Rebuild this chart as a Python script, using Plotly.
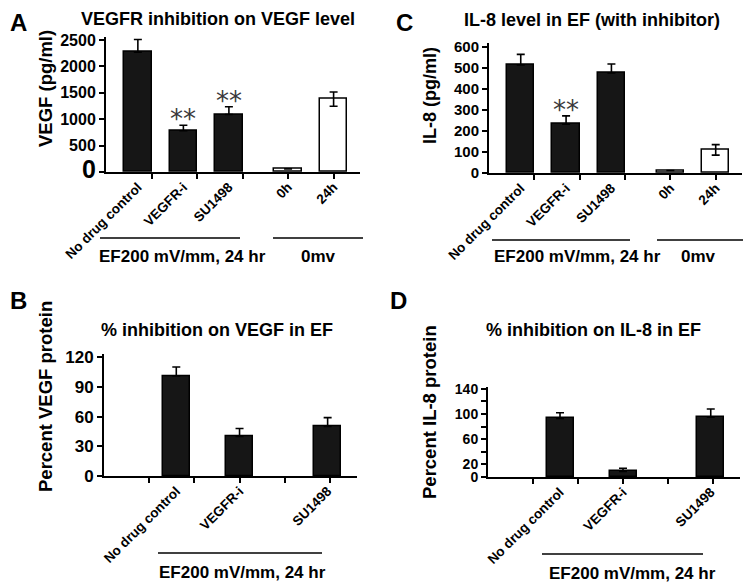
import plotly.graph_objects as go

# the page body keeps its default 8px margin, so the figure is drawn 8px smaller
# and every reference pixel position is shifted by that margin
PAGE_W, PAGE_H, BODY = 751, 587, 8
W, H = PAGE_W - BODY, PAGE_H - BODY
FONT = "Liberation Sans, Arial, sans-serif"

# ---- data ----
# panel A: VEGF level (pg/ml)
vegf_cats = ["No drug control", "VEGFR-i", "SU1498", "0h", "24h"]
vegf_mean = [2270, 780, 1090, 60, 1380]
vegf_err = [240, 105, 145, 0, 135]
vegf_sig = ["", "**", "**", "", ""]

# panel C: IL-8 level (pg/ml)
il8_cats = ["No drug control", "VEGFR-i", "SU1498", "0h", "24h"]
il8_mean = [515, 232, 477, 12, 110]
il8_err = [50, 40, 42, 0, 25]
il8_sig = ["", "**", "", "", ""]

# panels B and D: percent of control
pct_cats = ["No drug control", "VEGFR-i", "SU1498"]
vegf_pct = [101, 40, 50]
vegf_pct_err = [9, 8, 9]
il8_pct = [93, 9, 95]
il8_pct_err = [9, 5, 13]

vegf_ticks = [0, 500, 1000, 1500, 2000, 2500]
il8_ticks = [0, 100, 200, 300, 400, 500, 600]
vegf_pct_ticks = [0, 30, 60, 90, 120]
il8_pct_ticks = [0, 20, 40, 60, 80, 100, 120, 140]
il8_pct_labels = ["0", "20", "", "60", "", "100", "", "140"]

# ---- layout helpers ----
slot_full = [0.7, 1.7, 2.7, 4.0, 5.0]
slot_pct = [1.6, 3.0, 4.95]
bar_fill = ["#161616", "#161616", "#161616", "white", "white"]


def px_x(v):
    return (v - BODY) / W


def px_y(v):
    return 1 - (v - BODY) / H


fig = go.Figure()


def add_bars(ax, xs, means, errs, colors):
    # filled bars hide the lower half of the error bar, open bars show it
    lower = [e if c == "white" else 0 for e, c in zip(errs, colors)]
    fig.add_trace(go.Bar(
        x=xs, y=means, width=0.6,
        marker=dict(color=colors, line=dict(color="black", width=1.5)),
        error_y=dict(type="data", symmetric=False, array=errs, arrayminus=lower,
                     color="black", thickness=1.6, width=4),
        xaxis="x" + ax, yaxis="y" + ax, showlegend=False,
    ))


add_bars("", slot_full, vegf_mean, vegf_err, bar_fill)
add_bars("2", slot_full, il8_mean, il8_err, bar_fill)
add_bars("3", slot_pct, vegf_pct, vegf_pct_err, bar_fill[:3])
add_bars("4", slot_pct, il8_pct, il8_pct_err, bar_fill[:3])


def xaxis_cfg(left, right, rng, vals, labels, anchor):
    return dict(
        domain=[px_x(left), px_x(right)], range=rng, anchor=anchor,
        automargin=False,
        tickmode="array", tickvals=vals, ticktext=labels, tickangle=-45,
        ticks="", showline=True, linecolor="black", linewidth=2,
        showgrid=False, zeroline=False,
        tickfont=dict(family=FONT, size=13.5, color="black", weight="bold"),
        minor=dict(tickmode="array", tickvals=[1, 2, 3, 4, 5], ticks="outside",
                   ticklen=5, tickwidth=1.5, tickcolor="black", showgrid=False),
    )


def yaxis_cfg(bottom, top, rng, vals, labels, anchor, size):
    return dict(
        domain=[px_y(bottom), px_y(top)], range=rng, anchor=anchor,
        automargin=False,
        tickmode="array", tickvals=vals, ticktext=labels,
        ticks="outside", ticklen=5, tickwidth=1.5, tickcolor="black",
        showline=True, linecolor="black", linewidth=2,
        showgrid=False, zeroline=False,
        tickfont=dict(family=FONT, size=size, color="black", weight="bold"),
    )


vegf_labels = ["<span style='font-size:25px'>0</span>"] + [str(v) for v in vegf_ticks[1:]]

fig.update_layout(
    template="none",
    width=W, height=H,
    margin=dict(l=0, r=0, t=0, b=0, autoexpand=False),
    paper_bgcolor="white", plot_bgcolor="white",
    bargap=0, showlegend=False,
    xaxis=xaxis_cfg(106, 360, [0, 5.58], slot_full, vegf_cats, "y"),
    yaxis=yaxis_cfg(172, 36.8, [0, 2560], vegf_ticks, vegf_labels, "x", 16),
    xaxis2=xaxis_cfg(489, 742, [0, 5.58], slot_full, il8_cats, "y2"),
    yaxis2=yaxis_cfg(173, 42.8, [0, 620], il8_ticks, [str(v) for v in il8_ticks], "x2", 15),
    xaxis3=xaxis_cfg(104, 357, [0, 5.6], slot_pct, pct_cats, "y3"),
    yaxis3=yaxis_cfg(476, 354.2, [0, 123], vegf_pct_ticks, [str(v) for v in vegf_pct_ticks], "x3", 17),
    xaxis4=xaxis_cfg(488, 740, [0, 5.6], slot_pct, pct_cats, "y4"),
    yaxis4=yaxis_cfg(477, 387, [0, 143], il8_pct_ticks, il8_pct_labels, "x4", 14),
)


def text(s, x, y, size, angle=0, weight="bold"):
    fig.add_annotation(
        text=s, x=px_x(x), y=px_y(y), xref="paper", yref="paper",
        showarrow=False, textangle=angle, xanchor="center", yanchor="middle",
        font=dict(family=FONT, size=size, color="black", weight=weight),
    )


def group_line(x0, x1, y):
    fig.add_shape(type="line", xref="paper", yref="paper",
                  x0=px_x(x0), x1=px_x(x1), y0=px_y(y), y1=px_y(y),
                  line=dict(color="black", width=1.5))


# panel letters
text("A", 18, 22, 24)
text("B", 18, 300, 24)
text("C", 404, 22, 24)
text("D", 398, 300, 24)

# titles
text("VEGFR inhibition on VEGF level", 218, 19, 18)
text("IL-8 level in EF (with inhibitor)", 592, 20, 18)
text("% inhibition on VEGF in EF", 217, 330, 18)
text("% inhibition on IL-8 in EF", 593, 330, 18)

# y-axis titles
text("VEGF (pg/ml)", 45, 89, 18.5, -90)
text("IL-8 (pg/ml)", 430, 96, 18, -90)
text("Percent VEGF protein", 45, 397, 18.5, -90)
text("Percent IL-8 protein", 429, 412, 18.5, -90)

# group labels under the axes
group_line(100, 240, 238)
group_line(273, 363, 238)
text("EF200 mV/mm, 24 hr", 182, 256, 17)
text("0mv", 318, 256, 17)

group_line(492, 630, 240)
group_line(657, 743, 240)
text("EF200 mV/mm, 24 hr", 577, 257, 17)
text("0mv", 698, 257, 17)

group_line(158, 322, 553)
text("EF200 mV/mm, 24 hr", 243, 572, 17)
group_line(542, 703, 554)
text("EF200 mV/mm, 24 hr", 632, 573, 17)


# significance marks
def add_sig(ax, xs, means, errs, marks):
    for x, m, e, s in zip(xs, means, errs, marks):
        if s:
            fig.add_annotation(
                text=s, x=x, y=m + e, xref="x" + ax, yref="y" + ax,
                showarrow=False, yanchor="bottom", yshift=-11,
                font=dict(family="DejaVu Sans", size=26, color="#3a3a3a"),
            )


add_sig("", slot_full, vegf_mean, vegf_err, vegf_sig)
add_sig("2", slot_full, il8_mean, il8_err, il8_sig)

fig.write_html("out.html")
